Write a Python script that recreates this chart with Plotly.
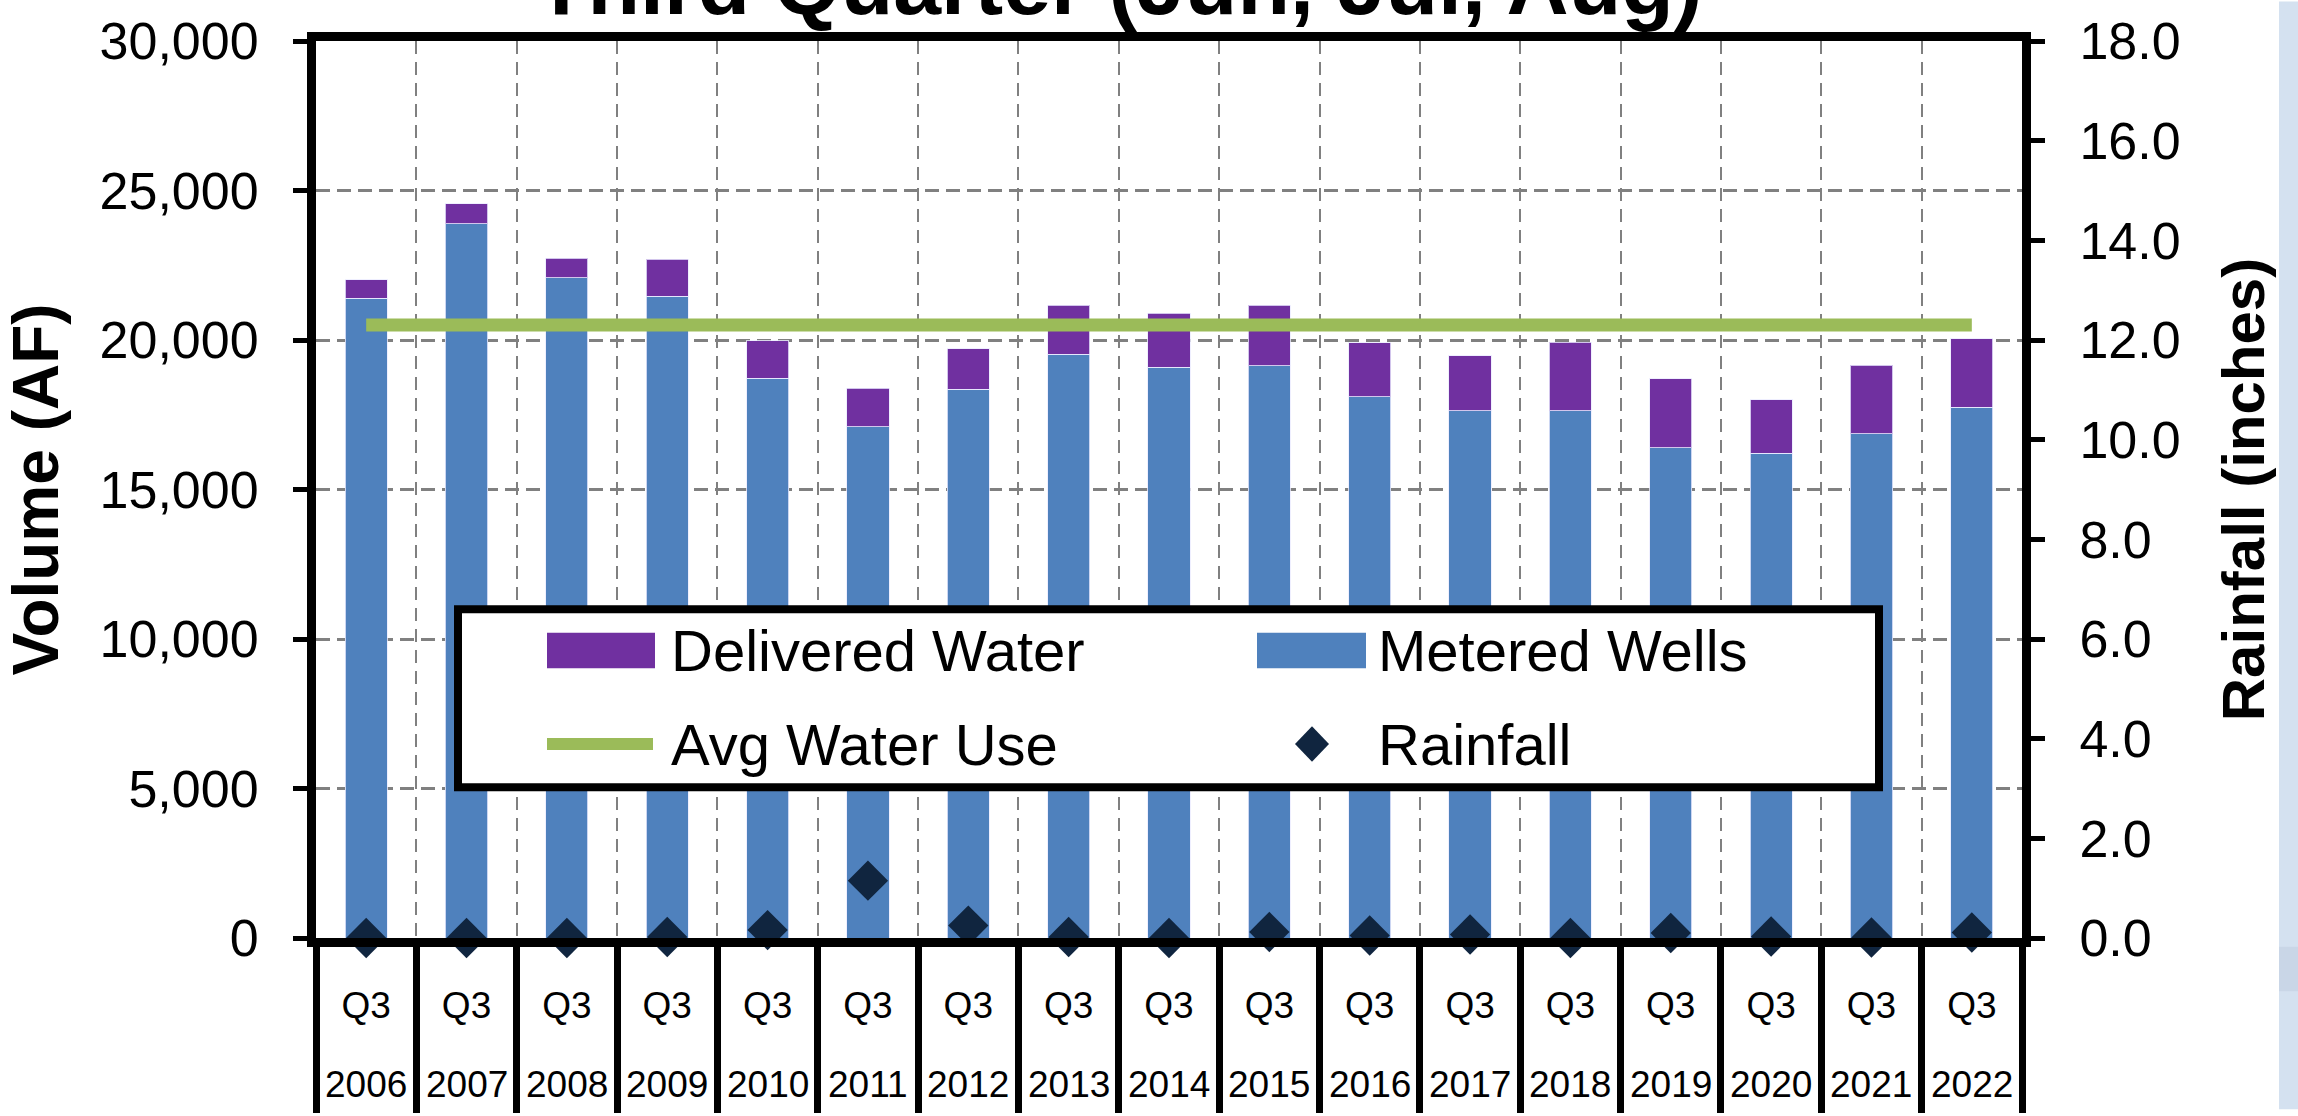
import plotly.graph_objects as go

# ---------------- data ----------------
years = ["2006", "2007", "2008", "2009", "2010", "2011", "2012", "2013", "2014",
         "2015", "2016", "2017", "2018", "2019", "2020", "2021", "2022"]
quarter_labels = ["Q3", "Q3", "Q3", "Q3", "Q3", "Q3", "Q3", "Q3", "Q3",
                  "Q3", "Q3", "Q3", "Q3", "Q3", "Q3", "Q3", "Q3"]
metered_wells = [21400, 23880, 22090, 21460, 18720, 17100, 18350, 19520, 19090,
                 19140, 18100, 17640, 17640, 16400, 16220, 16860, 17750]
delivered_water = [620, 670, 650, 1240, 1250, 1290, 1350, 1640, 1800,
                   2020, 1800, 1840, 2290, 2300, 1780, 2300, 2300]
avg_water_use = [20500, 20500, 20500, 20500, 20500, 20500, 20500, 20500, 20500,
                 20500, 20500, 20500, 20500, 20500, 20500, 20500, 20500]
rainfall = [0.0, 0.0, 0.0, 0.02, 0.16, 1.15, 0.25, 0.02, 0.0,
            0.12, 0.05, 0.07, 0.0, 0.10, 0.03, 0.01, 0.11]

title_text = "Third Quarter (Jun, Jul, Aug)"
y_title = "Volume (AF)"
y2_title = "Rainfall (inches)"

# ---------------- style ----------------
W, H = 2298, 1116
ML, MR, MT, MB = 316, 276, 35, 170
PW, PH = W - ML - MR, H - MT - MB
FONT = "Liberation Sans, Arial, sans-serif"
PURPLE = "#7030A0"
BLUE = "#4F81BD"
GREEN = "#9BBB59"
NAVY = "#10253F"
GRID = "#808080"


def px(xp):
    return (xp - ML) / PW


def py(yp):
    return (MT + PH - yp) / PH


fig = go.Figure()
fig.add_trace(go.Bar(x=years, y=metered_wells, name="Metered Wells",
                     marker=dict(color=BLUE, line=dict(color="rgba(235,235,255,0.8)", width=1))))
fig.add_trace(go.Bar(x=years, y=delivered_water, name="Delivered Water",
                     marker=dict(color=PURPLE, line=dict(color="rgba(235,235,255,0.8)", width=1))))
fig.add_trace(go.Scatter(x=years, y=avg_water_use, name="Avg Water Use", mode="lines",
                         line=dict(color=GREEN, width=13)))
fig.add_trace(go.Scatter(x=years, y=rainfall, name="Rainfall", mode="markers", yaxis="y2",
                         cliponaxis=False,
                         marker=dict(symbol="diamond", size=31, color=NAVY)))

shapes = []
annotations = []

# custom legend
shapes.append(dict(type="rect", xref="paper", yref="paper",
                   x0=px(458), x1=px(1879), y0=py(793), y1=py(612),
                   line=dict(color="black", width=8), fillcolor="white", layer="above"))
shapes.append(dict(type="rect", xref="paper", yref="paper",
                   x0=px(547), x1=px(655), y0=py(672), y1=py(636),
                   line=dict(width=0), fillcolor=PURPLE, layer="above"))
shapes.append(dict(type="rect", xref="paper", yref="paper",
                   x0=px(1257), x1=px(1366), y0=py(672), y1=py(636),
                   line=dict(width=0), fillcolor=BLUE, layer="above"))
shapes.append(dict(type="line", xref="paper", yref="paper",
                   x0=px(547), x1=px(653), y0=py(749), y1=py(749),
                   line=dict(color=GREEN, width=12), layer="above"))
cx, cy, hx, hy = 1312, 749, 17, 18
shapes.append(dict(type="path", xref="paper", yref="paper",
                   path=f"M{px(cx)},{py(cy - hy)} L{px(cx + hx)},{py(cy)} L{px(cx)},{py(cy + hy)} L{px(cx - hx)},{py(cy)} Z",
                   line=dict(width=0), fillcolor=NAVY, layer="above"))
legend_items = [("Delivered Water", 669, 654), ("Metered Wells", 1376, 654),
                ("Avg Water Use", 669, 749), ("Rainfall", 1376, 749)]
for txt, lx, ly in legend_items:
    annotations.append(dict(text=txt, xref="paper", yref="paper", x=px(lx), y=py(ly),
                            xanchor="left", yanchor="middle", showarrow=False,
                            font=dict(family=FONT, size=58, color="black")))

# right-edge background strip
shapes.append(dict(type="rect", xref="paper", yref="paper", x0=px(2279), x1=px(2310),
                   y0=py(1120), y1=py(-5), line=dict(width=0), fillcolor="#d4e1f0", layer="below"))
shapes.append(dict(type="rect", xref="paper", yref="paper", x0=px(2279), x1=px(2310),
                   y0=py(1000), y1=py(955), line=dict(width=0), fillcolor="#c9d6e7", layer="below"))

# year row labels (category index positions on the x axis)
for i, yr in enumerate(years):
    annotations.append(dict(text=yr, xref="x", yref="paper", x=i, y=0, yshift=-146,
                            yanchor="middle", xanchor="center", showarrow=False,
                            font=dict(family=FONT, size=37, color="black")))

# title (cropped at top)
annotations.append(dict(text=f"<b>{title_text}</b>", xref="paper", yref="paper",
                        x=px(1118), y=1, yanchor="bottom", xanchor="center", yshift=7,
                        showarrow=False, font=dict(family=FONT, size=86, color="black")))

fig.update_layout(
    width=W, height=H,
    margin=dict(l=ML, r=MR, t=MT, b=MB, pad=0),
    paper_bgcolor="white", plot_bgcolor="white",
    barmode="stack", bargap=0.58,
    showlegend=False,
    font=dict(family=FONT, color="black"),
    xaxis=dict(type="category", categoryorder="array", categoryarray=years,
               range=[-0.5, len(years) - 0.5], autorange=False,
               tickmode="array", tickvals=years, ticktext=quarter_labels,
               tickson="boundaries", ticks="outside", ticklen=166, tickwidth=7, tickcolor="black",
               ticklabelstandoff=27,
               tickfont=dict(family=FONT, size=37, color="black"),
               showline=True, linewidth=9, linecolor="black", mirror=True,
               showgrid=True, gridcolor=GRID, gridwidth=2, griddash="13px,8px",
               zeroline=False),
    yaxis=dict(range=[0, 30000], dtick=5000, tickformat=",",
               tickfont=dict(family=FONT, size=52, color="black"),
               ticks="outside", ticklen=14, tickwidth=5, tickcolor="black",
               ticklabelstandoff=24,
               showline=True, linewidth=9, linecolor="black",
               showgrid=True, gridcolor=GRID, gridwidth=3, griddash="14px,7px",
               zeroline=False,
               title=dict(text=f"<b>{y_title}</b>", standoff=40,
                          font=dict(family=FONT, size=64, color="black"))),
    yaxis2=dict(range=[0, 18], dtick=2, tickformat=".1f", overlaying="y", side="right",
                tickfont=dict(family=FONT, size=52, color="black"),
                ticks="outside", ticklen=14, tickwidth=5, tickcolor="black",
                ticklabelstandoff=24,
                showline=True, linewidth=9, linecolor="black",
                showgrid=False, zeroline=False,
                title=dict(text=f"<b>{y2_title}</b>", standoff=46,
                           font=dict(family=FONT, size=60, color="black"))),
    shapes=shapes,
    annotations=annotations,
)

fig.write_html("out.html", config={"displayModeBar": False},
               post_script="document.body.style.margin='0';")
